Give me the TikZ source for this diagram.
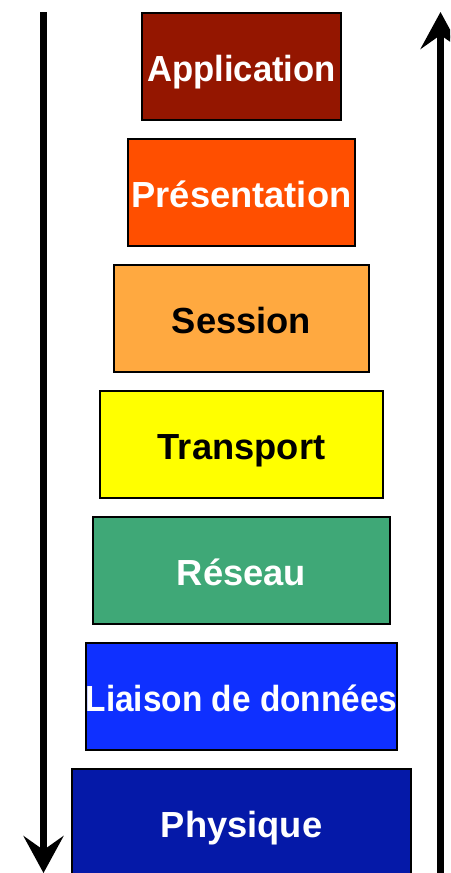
\documentclass[tikz,border=0pt]{standalone}
\usepackage{fontspec}
\setmainfont{Liberation Sans}
\usetikzlibrary{arrows.meta}
\definecolor{cApp}{HTML}{941600}
\definecolor{cPres}{HTML}{FF4F00}
\definecolor{cSess}{HTML}{FFA940}
\definecolor{cTrans}{HTML}{FFFF00}
\definecolor{cRes}{HTML}{3FA877}
\definecolor{cLiai}{HTML}{0F30FF}
\definecolor{cPhys}{HTML}{0519A8}
\tikzset{
  layer/.style={draw=black, line width=2pt, minimum height=107pt, inner sep=0pt,
    text height=32pt, text depth=2pt,
    font=\fontsize{36.3}{40}\selectfont\bfseries},
  flow/.style={line width=7.5pt, -{Stealth[length=37pt,width=40pt,inset=14pt]}}
}
\begin{document}
\begin{tikzpicture}[x=1pt,y=-1pt]
\useasboundingbox (0,0) rectangle (450,873);
\clip (0,0) rectangle (450,873);
\node[layer, fill=cApp, text=white, minimum width=199pt] (app) at (241.5,66) {\makebox[0pt]{\scalebox{0.955}[1]{Application}}};
\node[layer, fill=cPres, text=white, minimum width=227pt] (pres) at (241.5,192) {\makebox[0pt]{Présentation}};
\node[layer, fill=cSess, text=black, minimum width=255pt] (sess) at (241.5,318) {\makebox[0pt]{Session}};
\node[layer, fill=cTrans, text=black, minimum width=283pt] (trans) at (241.5,444) {\makebox[0pt]{Transport}};
\node[layer, fill=cRes, text=white, minimum width=297pt] (res) at (241.5,570) {\makebox[0pt]{Réseau}};
\node[layer, fill=cLiai, text=white, minimum width=311pt] (liai) at (241.5,696) {\makebox[0pt]{\scalebox{0.92}[1]{Liaison de données}}};
\node[layer, fill=cPhys, text=white, minimum width=339pt] (phys) at (241.5,822) {\makebox[0pt]{Physique}};
\coordinate (ltop) at (43.5,12);
\coordinate (lbot) at (43.5,873);
\coordinate (rbot) at (440.5,880);
\coordinate (rtop) at (440.5,12);
\draw[flow] (ltop) -- (lbot);
\draw[flow] (rbot) -- (rtop);
\end{tikzpicture}
\end{document}
